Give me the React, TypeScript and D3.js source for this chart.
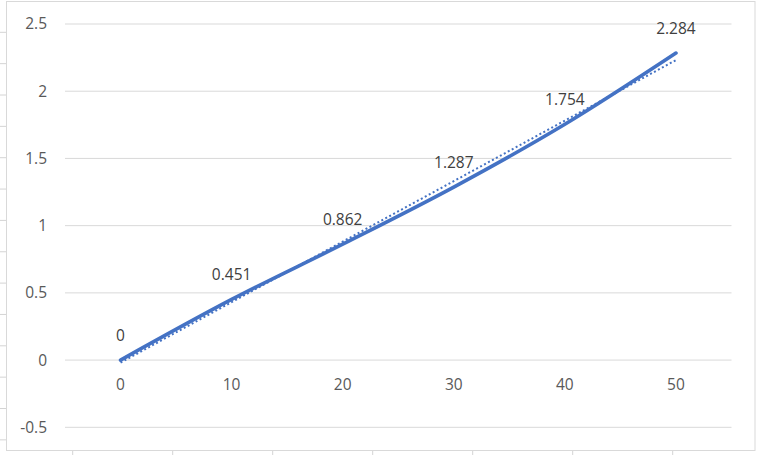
import React from "react";
import * as d3 from "d3";

const xValues = [0, 10, 20, 30, 40, 50];
const yValues = [0, 0.451, 0.862, 1.287, 1.754, 2.284];
const xTicks = [0, 10, 20, 30, 40, 50];
const yTicks = [-0.5, 0, 0.5, 1, 1.5, 2, 2.5];

const W = 761;
const H = 455;
const FONT = "'Open Sans', 'Noto Sans', sans-serif";
const TEXT = "#595959";
const GRID = "#d9d9d9";
const BLUE = "#4472C4";

export default function App() {
  const x = d3.scaleLinear().domain([-5, 55]).range([65, 731.5]);
  const y = d3.scaleLinear().domain([-0.5, 2.5]).range([427.3, 24]);

  const pts: [number, number][] = xValues.map((v, i) => [v, yValues[i]]);

  const line = d3
    .line<[number, number]>()
    .x((d) => x(d[0]))
    .y((d) => y(d[1]))
    .curve(d3.curveCatmullRom.alpha(0.5));

  // linear trendline (least squares)
  const mx = d3.mean(xValues) as number;
  const my = d3.mean(yValues) as number;
  const sxy = d3.sum(xValues.map((v, i) => (v - mx) * (yValues[i] - my)));
  const sxx = d3.sum(xValues.map((v) => (v - mx) * (v - mx)));
  const slope = sxy / sxx;
  const intercept = my - slope * mx;
  const x0 = d3.min(xValues) as number;
  const x1 = d3.max(xValues) as number;

  // spreadsheet background cell lines (decoration)
  const rowLines = d3.range(14).map((i) => 32.3 + i * 31.35);
  const colLines = d3.range(7).map((i) => 72.7 + i * 100);

  return (
    <div style={{ position: "fixed", left: 0, top: 0, width: W, height: H }}>
      <svg width={W} height={H} style={{ display: "block", background: "#fff" }}>
        {/* spreadsheet cell lines */}
        {rowLines.map((ry, i) => (
          <line key={"r" + i} x1={0} x2={6} y1={ry} y2={ry} stroke="#d4d4d4" strokeWidth={1} />
        ))}
        {colLines.map((cx, i) => (
          <line key={"c" + i} x1={cx} x2={cx} y1={451} y2={H} stroke="#d4d4d4" strokeWidth={1} />
        ))}
        {/* chart area border */}
        <rect x={6.5} y={1.5} width={748.5} height={449} fill="#fff" stroke={GRID} strokeWidth={1} />

        {/* gridlines */}
        {yTicks.map((t) => (
          <line
            key={"g" + t}
            x1={x(-5)}
            x2={x(55)}
            y1={y(t)}
            y2={y(t)}
            stroke={GRID}
            strokeWidth={1}
          />
        ))}

        {/* y tick labels */}
        {yTicks.map((t) => (
          <text
            key={"yt" + t}
            x={47}
            y={y(t)}
            dy="0.35em"
            textAnchor="end"
            fontFamily={FONT}
            fontSize={15.5}
            fill={TEXT}
          >
            {String(t)}
          </text>
        ))}

        {/* x tick labels */}
        {xTicks.map((t) => (
          <text
            key={"xt" + t}
            x={x(t)}
            y={y(0) + 30}
            textAnchor="middle"
            fontFamily={FONT}
            fontSize={15.5}
            fill={TEXT}
          >
            {String(t)}
          </text>
        ))}

        {/* trendline */}
        <line
          x1={x(x0)}
          y1={y(intercept + slope * x0)}
          x2={x(x1)}
          y2={y(intercept + slope * x1)}
          stroke={BLUE}
          strokeWidth={2}
          strokeDasharray="2 2.5"
        />

        {/* series line */}
        <path
          d={line(pts) || ""}
          fill="none"
          stroke={BLUE}
          strokeWidth={3.6}
          strokeLinecap="round"
          strokeLinejoin="round"
        />

        {/* data labels */}
        {pts.map((p, i) => (
          <text
            key={"dl" + i}
            x={x(p[0])}
            y={y(p[1]) - 19.5}
            textAnchor="middle"
            fontFamily={FONT}
            fontSize={15.5}
            fill="#404040"
          >
            {String(p[1])}
          </text>
        ))}
      </svg>
    </div>
  );
}
